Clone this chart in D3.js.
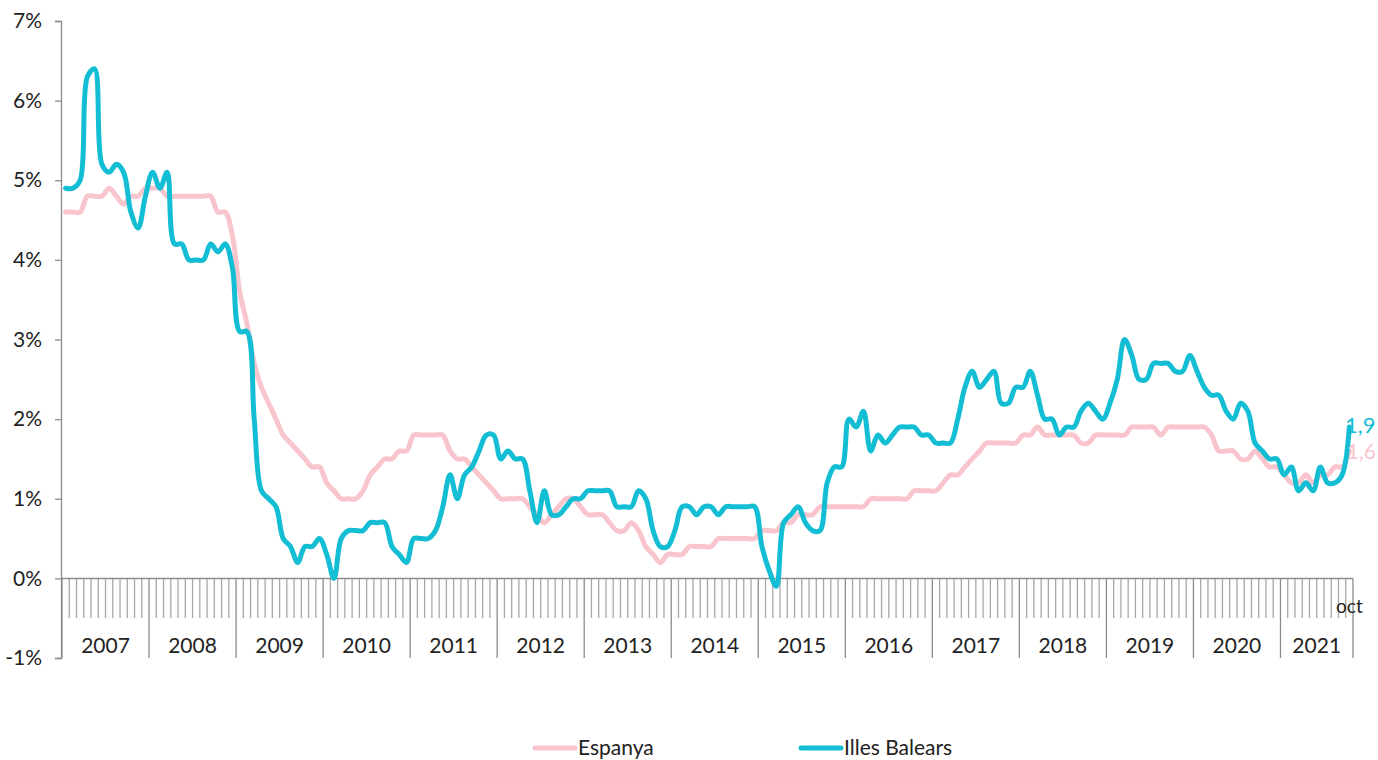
<!DOCTYPE html>
<html>
<head>
<meta charset="utf-8">
<script src="https://cdn.jsdelivr.net/npm/d3@7"></script>
<style>
  body { margin: 0; background: #fff; }
  svg { display: block; font-family: Lato, "Noto Sans", sans-serif; }
</style>
</head>
<body>
<div id="chart"></div>
<script>
// monthly values, Jan 2007 - Oct 2021
const years = ["2007","2008","2009","2010","2011","2012","2013","2014","2015","2016","2017","2018","2019","2020","2021"];
const lastMonthLabel = "oct";

const espanya = [
  4.6,4.6,4.6,4.8,4.8,4.8,4.9,4.8,4.7,4.8,4.8,4.9,
  4.9,4.9,4.8,4.8,4.8,4.8,4.8,4.8,4.8,4.6,4.6,4.3,
  3.6,3.2,2.7,2.4,2.2,2.0,1.8,1.7,1.6,1.5,1.4,1.4,
  1.2,1.1,1.0,1.0,1.0,1.1,1.3,1.4,1.5,1.5,1.6,1.6,
  1.8,1.8,1.8,1.8,1.8,1.6,1.5,1.5,1.4,1.3,1.2,1.1,
  1.0,1.0,1.0,1.0,0.9,0.8,0.7,0.8,0.9,1.0,1.0,0.9,
  0.8,0.8,0.8,0.7,0.6,0.6,0.7,0.6,0.4,0.3,0.2,0.3,
  0.3,0.3,0.4,0.4,0.4,0.4,0.5,0.5,0.5,0.5,0.5,0.5,
  0.6,0.6,0.6,0.7,0.7,0.8,0.8,0.8,0.9,0.9,0.9,0.9,
  0.9,0.9,0.9,1.0,1.0,1.0,1.0,1.0,1.0,1.1,1.1,1.1,
  1.1,1.2,1.3,1.3,1.4,1.5,1.6,1.7,1.7,1.7,1.7,1.7,
  1.8,1.8,1.9,1.8,1.8,1.8,1.8,1.8,1.7,1.7,1.8,1.8,
  1.8,1.8,1.8,1.9,1.9,1.9,1.9,1.8,1.9,1.9,1.9,1.9,
  1.9,1.9,1.8,1.6,1.6,1.6,1.5,1.5,1.6,1.5,1.4,1.4,
  1.3,1.2,1.2,1.3,1.2,1.3,1.3,1.4,1.4,1.6
];

const balears = [
  4.9,4.9,5.0,6.3,6.4,5.2,5.1,5.2,5.1,4.6,4.4,4.8,
  5.1,4.9,5.1,4.2,4.2,4.0,4.0,4.0,4.2,4.1,4.2,3.9,
  3.1,3.1,2.0,1.1,1.0,0.9,0.5,0.4,0.2,0.4,0.4,0.5,
  0.3,0.0,0.5,0.6,0.6,0.6,0.7,0.7,0.7,0.4,0.3,0.2,
  0.5,0.5,0.5,0.6,0.9,1.3,1.0,1.3,1.4,1.6,1.8,1.8,
  1.5,1.6,1.5,1.5,1.1,0.7,1.1,0.8,0.8,0.9,1.0,1.0,
  1.1,1.1,1.1,1.1,0.9,0.9,0.9,1.1,1.0,0.6,0.4,0.4,
  0.6,0.9,0.9,0.8,0.9,0.9,0.8,0.9,0.9,0.9,0.9,0.9,
  0.4,0.1,-0.1,0.7,0.8,0.9,0.7,0.6,0.6,1.2,1.4,1.4,
  2.0,1.9,2.1,1.6,1.8,1.7,1.8,1.9,1.9,1.9,1.8,1.8,
  1.7,1.7,1.7,2.0,2.4,2.6,2.4,2.5,2.6,2.2,2.2,2.4,
  2.4,2.6,2.3,2.0,2.0,1.8,1.9,1.9,2.1,2.2,2.1,2.0,
  2.2,2.5,3.0,2.8,2.5,2.5,2.7,2.7,2.7,2.6,2.6,2.8,
  2.6,2.4,2.3,2.3,2.1,2.0,2.2,2.1,1.7,1.6,1.5,1.5,
  1.3,1.4,1.1,1.2,1.1,1.4,1.2,1.2,1.3,1.9
];

const yTicks = [-1,0,1,2,3,4,5,6,7];
const seriesNames = ["Espanya","Illes Balears"];
const colors = ["#f9c5cd","#13bdd3"];

const W = 1378, H = 760;
const svg = d3.select("#chart").append("svg").attr("width", W).attr("height", H);

const months = d3.range(espanya.length);
const x = d3.scaleBand().domain(months).range([62, 1353]).padding(0);
const y = d3.scaleLinear().domain([-1, 7]).range([658, 21]);
const cx = i => x(i) + x.bandwidth() / 2;
const axisColor = "#8c8c8c";

// y axis
const yAxis = svg.append("g").attr("transform", "translate(61,0)")
  .call(d3.axisLeft(y).tickValues(yTicks).tickSize(6).tickPadding(13)
    .tickFormat(d => d + "%"));
yAxis.select(".domain").attr("stroke", axisColor).attr("stroke-width", 1.3);
yAxis.selectAll(".tick line").attr("stroke", axisColor).attr("stroke-width", 1.3);
yAxis.selectAll("text").attr("font-size", 21).attr("fill", "#222").attr("font-family", "Lato, sans-serif");

// month ticks at band boundaries
const bounds = d3.range(espanya.length + 1).map(k => 62 + k * x.bandwidth());
svg.append("g").selectAll("line").data(bounds).join("line")
  .attr("x1", d => d).attr("x2", d => d)
  .attr("y1", y(0))
  .attr("y2", (d, k) => (k % 12 === 0 || k === espanya.length) ? 658 : 618)
  .attr("stroke", (d, k) => (k % 12 === 0 || k === espanya.length) ? axisColor : "#a8a8a8")
  .attr("stroke-width", 1.3);

svg.append("line")
  .attr("x1", 61).attr("x2", 1353).attr("y1", y(0)).attr("y2", y(0))
  .attr("stroke", axisColor).attr("stroke-width", 1.5);

// year labels
svg.append("g").selectAll("text").data(years).join("text")
  .attr("x", (d, i) => {
    const a = 62 + i * 12 * x.bandwidth();
    const b = Math.min(62 + (i + 1) * 12 * x.bandwidth(), 1353);
    return (a + b) / 2;
  })
  .attr("y", 653)
  .attr("text-anchor", "middle")
  .attr("font-size", 21)
  .attr("fill", "#222")
  .text(d => d);

svg.append("text")
  .attr("x", cx(espanya.length - 1)).attr("y", 613)
  .attr("text-anchor", "middle").attr("font-size", 19).attr("fill", "#222")
  .text(lastMonthLabel);

// lines
const line = d3.line().x((d, i) => cx(i)).y(d => y(d)).curve(d3.curveCatmullRom.alpha(0.5));
[espanya, balears].forEach((s, k) => {
  svg.append("path").datum(s)
    .attr("d", line)
    .attr("fill", "none")
    .attr("stroke", colors[k])
    .attr("stroke-width", 5)
    .attr("stroke-linejoin", "round")
    .attr("stroke-linecap", "round");
});

// end labels
const fmt = v => v.toFixed(1).replace(".", ",");
svg.append("text").attr("x", 1345).attr("y", y(balears[balears.length - 1]) + 6)
  .attr("font-size", 22).attr("fill", colors[1]).text(fmt(balears[balears.length - 1]));
svg.append("text").attr("x", 1376).attr("y", y(espanya[espanya.length - 1]) + 8)
  .attr("text-anchor", "end")
  .attr("font-size", 21).attr("fill", colors[0]).text(fmt(espanya[espanya.length - 1]));

// legend
const legendX = [535, 801];
const lg = svg.append("g").selectAll("g").data(seriesNames).join("g")
  .attr("transform", (d, i) => `translate(${legendX[i]},748)`);
lg.append("line").attr("x1", 0).attr("x2", 40)
  .attr("stroke", (d, i) => colors[i]).attr("stroke-width", 5).attr("stroke-linecap", "round");
lg.append("text").attr("x", 43).attr("y", 7).attr("font-size", 21).attr("fill", "#222").text(d => d);
</script>
</body>
</html>
